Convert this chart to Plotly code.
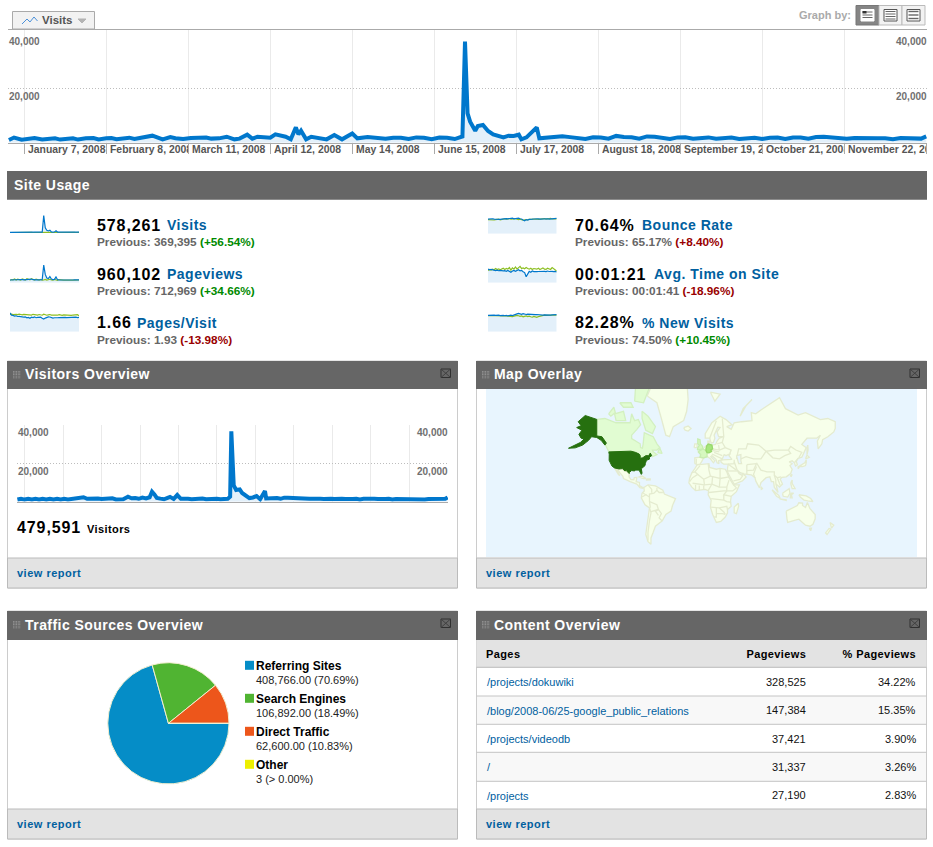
import json
import math
from datetime import datetime, timedelta
import plotly.graph_objects as go

W, H = 933, 847
BLUE = "#0077CC"
FILL = "#E3F0FA"
GREEN = "#8DBF22"
LINK = "#00609F"
FONT = "Liberation Sans"

# ---------- data ----------
tick_dates = ["2008-01-07", "2008-02-08", "2008-03-11", "2008-04-12", "2008-05-14", "2008-06-15",
              "2008-07-17", "2008-08-18", "2008-09-19", "2008-10-21", "2008-11-22", "2008-12-24"]
tick_labels = ["January 7, 2008", "February 8, 2008", "March 11, 2008", "April 12, 2008", "May 14, 2008",
               "June 15, 2008", "July 17, 2008", "August 18, 2008", "September 19, 2", "October 21, 2008",
               "November 22, 20"]

main_days = [0, 2, 5, 8, 10, 13, 16, 18, 20, 23, 25, 27, 30, 33, 35, 38, 40, 42, 45, 47, 49, 52, 54, 56, 60, 63, 65,
             68, 71, 74, 77, 79, 82, 85, 88, 90, 93, 95, 97, 102, 104, 108, 110, 112, 113, 114, 116, 118, 121, 124,
             127, 130, 134, 136, 140, 143, 147, 150, 153, 156, 159, 162, 165, 168, 171, 174, 176, 177, 178, 179,
             180, 181, 182, 183, 185, 187, 189, 193, 195, 197, 199, 200, 202, 204, 206, 207, 210, 213, 216, 219,
             222, 225, 228, 231, 234, 237, 240, 243, 246, 249, 252, 255, 258, 261, 264, 267, 270, 273, 276, 279,
             282, 285, 288, 291, 294, 297, 300, 303, 306, 309, 312, 315, 318, 321, 324, 327, 330, 333, 336, 339,
             342, 345, 348, 351, 354, 356, 358]
main_visits = [1000, 1900, 1100, 1550, 1700, 1150, 1600, 1650, 1150, 1650, 1650, 1150, 1650, 1700, 1200, 1650, 1700,
               1250, 1800, 1850, 1350, 1850, 1950, 2580, 1230, 2080, 1650, 1350, 1700, 1650, 1900, 1500, 1600, 2200,
               1230, 1500, 2950, 1480, 2200, 1850, 3070, 2200, 1230, 5640, 3070, 4420, 1230, 2200, 1600, 1230, 2800,
               1230, 3400, 1600, 2080, 1950, 1450, 1850, 1850, 1350, 1950, 1800, 1300, 1900, 1850, 1350, 2085, 2300,
               37200, 10800, 7730, 5890, 4420, 6130, 6500, 4300, 3070, 1960, 2580, 2450, 2940, 1230, 1960, 3800,
               5640, 1600, 1950, 2050, 2350, 2050, 1850, 1350, 2000, 1950, 1500, 2500, 2100, 2000, 1500, 2300, 2200,
               1700, 1350, 1950, 2000, 1500, 1900, 1950, 1450, 1850, 1900, 1400, 1800, 1850, 1400, 1850, 1900, 1350,
               1900, 1950, 1500, 2100, 2150, 1800, 1750, 1450, 1750, 1700, 1350, 1600, 1650, 1300, 1700, 1650, 1250,
               1500, 2300]

visitor_days = [0, 3, 6, 9, 12, 15, 18, 21, 24, 27, 30, 33, 36, 39, 42, 45, 48, 51, 55, 58, 61, 64, 67, 70, 73, 76,
                79, 82, 85, 88, 92, 95, 98, 101, 104, 107, 110, 112, 114, 116, 119, 122, 125, 127, 130, 133, 136, 139,
                142, 145, 148, 151, 154, 157, 160, 163, 166, 169, 172, 175, 176, 177, 178, 179, 180, 182, 185, 187,
                190, 193, 196, 199, 202, 204, 206, 207, 210, 213, 216, 219, 222, 225, 228, 231, 234, 237, 240, 243,
                246, 249, 252, 255, 258, 261, 264, 267, 270, 273, 276, 279, 282, 285, 288, 291, 294, 297, 300, 303,
                306, 309, 312, 315, 318, 321, 324, 327, 330, 333, 336, 339, 342, 345, 348, 351, 354, 356, 358]
visitor_counts = [1100, 1500, 1100, 1450, 1150, 1450, 1150, 1450, 1150, 1500, 1150, 1450, 1150, 1500, 1200, 1500,
                  1300, 1700, 2300, 1500, 1650, 1300, 1600, 1350, 1550, 1300, 1800, 1200, 1500, 1300, 2600, 1800,
                  1900, 1500, 2100, 1700, 2300, 5200, 3800, 2000, 1600, 1250, 2000, 2500, 1450, 3460, 1500, 1700,
                  1500, 1300, 1500, 1300, 1650, 1300, 1500, 1300, 1550, 1300, 1250, 1500, 2000, 2600, 36500, 14000,
                  8500, 6060, 6400, 4500, 2940, 1900, 2200, 2940, 1300, 3500, 5540, 1700, 1900, 2000, 1900, 1500,
                  2100, 2050, 1950, 1500, 1600, 1700, 1350, 1500, 1550, 1300, 1500, 1450, 1250, 1500, 1450, 1250,
                  1500, 1450, 1250, 1450, 1500, 1200, 1500, 1650, 1350, 1550, 1400, 1200, 1450, 1500, 1200, 1450,
                  1400, 1150, 1400, 1450, 1150, 1400, 1400, 1100, 1400, 1450, 1100, 1300, 1200, 1500, 2200]

visits_now = [1500, 1600, 1550, 1500, 1600, 1550, 1600, 1650, 1700, 1600, 2000, 1650, 1800, 1700, 2600, 1800, 3300,
              2100, 1700, 1600, 1500, 1700, 37500, 11000, 6000, 4500, 6200, 2500, 2000, 2200, 4800, 2000, 1900, 1800,
              1700, 1700, 1600, 1600, 1650, 1600, 1600, 1550, 1600, 1550, 1600, 1800]
visits_prev = [800, 900, 1200, 800, 900, 1300, 900, 1000, 1300, 800, 1100, 1400, 900, 1000, 1500, 1000, 1100, 1500,
               900, 1100, 1400, 900, 1000, 1400, 900, 1000, 1300, 900, 1000, 1300, 800, 1100, 900, 1200, 800, 900,
               1300, 800, 1000, 1300, 900, 1000, 1300, 800, 900, 1200]
pageviews_now = [2600, 2700, 2500, 2800, 2600, 2900, 2700, 3000, 3100, 2800, 3000, 2700, 3200, 2900, 3500, 2900, 3100,
                 2800, 2700, 2800, 2600, 3000, 17000, 8000, 4500, 4000, 6000, 3600, 3000, 3200, 5600, 2900, 2800, 2700,
                 2700, 2800, 2600, 2700, 2700, 2600, 2600, 2600, 2700, 2600, 2600, 2700]
pageviews_prev = [2300, 3000, 2700, 3500, 2500, 3400, 3000, 2600, 3700, 2900, 2500, 3800, 3100, 2700, 3900, 3300, 2500,
                  3400, 2900, 2500, 3100, 2400, 2600, 3200, 2500, 2900, 3300, 2700, 2400, 3100, 2600, 2300, 3000, 2700,
                  2200, 2500, 2400, 2600, 2500, 2400, 2600, 2500, 2400, 2600, 2500, 2600]
pagesvisit_now = [2.10, 1.85, 1.82, 1.75, 1.78, 1.70, 1.72, 1.68, 1.70, 1.62, 1.66, 1.55, 1.60, 1.50, 1.62, 1.58,
                  1.66, 1.56, 1.60, 1.64, 1.62, 1.50, 1.42, 1.52, 1.60, 1.66, 1.64, 1.58, 1.52, 1.56, 1.60, 1.56, 1.58,
                  1.60, 1.60, 1.58, 1.60, 1.58, 1.60, 1.56, 1.60, 1.58, 1.60, 1.62, 1.58, 1.60]
pagesvisit_prev = [1.92, 1.96, 1.90, 1.95, 1.93, 1.90, 1.96, 1.92, 1.88, 1.94, 1.92, 1.88, 1.92, 1.90, 1.86, 1.94,
                   1.90, 1.82, 1.86, 1.92, 1.88, 1.84, 1.96, 1.90, 1.84, 1.88, 1.92, 1.86, 1.84, 1.90, 1.88, 1.84, 1.90,
                   1.86, 1.82, 1.88, 1.86, 1.84, 1.88, 1.86, 1.82, 1.86, 1.88, 1.84, 1.90, 1.78]
bounce_now = [70, 71, 70, 72, 70, 69, 71, 70, 69, 70, 72, 74, 73, 72, 74, 73, 75, 72, 74, 73, 75, 72, 71, 66, 62, 68,
              66, 69, 68, 70, 71, 72, 71, 72, 70, 71, 72, 71, 71, 72, 70, 71, 72, 71, 73, 74]
bounce_prev = [68, 67, 69, 68, 66, 68, 69, 70, 67, 69, 71, 72, 70, 72, 73, 70, 72, 71, 73, 70, 68, 70, 67, 65, 67, 66,
               68, 69, 70, 68, 69, 70, 71, 69, 70, 71, 72, 73, 70, 71, 72, 74, 71, 73, 72, 71]
time_now = [86, 82, 84, 80, 79, 77, 80, 76, 78, 74, 75, 76, 72, 78, 70, 66, 74, 78, 72, 76, 82, 75, 78, 70, 64, 38, 60,
            72, 66, 74, 70, 72, 70, 71, 72, 73, 70, 72, 70, 74, 71, 73, 72, 70, 72, 68]
time_prev = [78, 84, 80, 86, 82, 90, 84, 88, 82, 86, 92, 84, 90, 86, 96, 80, 94, 86, 100, 86, 96, 104, 90, 94, 88, 96,
             90, 86, 92, 84, 90, 88, 86, 92, 84, 88, 94, 86, 84, 92, 88, 84, 96, 88, 80, 74]
newvisits_now = [79, 80, 79, 81, 80, 79, 81, 80, 78, 80, 79, 77, 79, 76, 78, 80, 78, 82, 84, 86, 88, 86, 84, 87, 85,
                 83, 85, 84, 82, 84, 83, 82, 83, 82, 80, 81, 80, 81, 80, 81, 81, 80, 81, 82, 81, 82]
newvisits_prev = [78, 77, 78, 76, 77, 78, 77, 76, 77, 75, 76, 77, 76, 75, 77, 75, 73, 75, 77, 79, 77, 74, 76, 72, 74,
                  76, 73, 75, 72, 70, 74, 72, 69, 73, 75, 77, 79, 80, 79, 80, 80, 79, 80, 80, 79, 80]

source_names = ["Referring Sites", "Search Engines", "Direct Traffic", "Other"]
source_values = [408766, 106892, 62600, 3]
source_labels = ["408,766.00 (70.69%)", "106,892.00 (18.49%)", "62,600.00 (10.83%)", "3 (> 0.00%)"]

page_paths = ["/projects/dokuwiki", "/blog/2008-06/25-google_public_relations", "/projects/videodb", "/", "/projects"]
page_views = ["328,525", "147,384", "37,421", "31,337", "27,190"]
page_shares = ["34.22%", "15.35%", "3.90%", "3.26%", "2.83%"]

# map outlines, (longitude, latitude)
alaska = [(-141, 69.6), (-148, 70.3), (-156.5, 71.3), (-166, 68.5), (-162, 66.5), (-168, 65.5), (-161, 64), (-165, 61.5),
          (-162, 59), (-158, 58.5), (-163, 56), (-179, 51.5), (-170, 51.8), (-160, 54), (-152, 57.5), (-148, 60), (-141, 59.5),
          (-135, 57.5), (-130, 54), (-128, 55.5), (-134, 60), (-141, 60.5)]
usa48 = [(-124.7, 48.4), (-95, 49), (-89, 48), (-84, 46.5), (-82.5, 45), (-82.5, 42.5), (-79, 43), (-76, 44), (-75, 45),
         (-71, 45), (-69, 47.3), (-67, 45), (-70, 43.5), (-70, 41.7), (-74, 40.5), (-75.5, 37.5), (-76, 35), (-81, 31.5),
         (-80, 26.5), (-81, 25), (-82.5, 28), (-84, 30), (-89, 30), (-90, 29), (-94, 29.5), (-97, 27.5), (-97.3, 26),
         (-99.5, 27.5), (-101.5, 29.7), (-103, 29), (-106.5, 31.7), (-111, 31.3), (-114.7, 32.5), (-117.2, 32.5),
         (-120.5, 34.5), (-122.5, 37.5), (-124.3, 40.5), (-124.2, 46)]
canada = [(-141, 69.6), (-130, 70), (-115, 68), (-108, 68), (-96, 68), (-94, 72), (-90, 69), (-85, 69.5), (-82, 67),
          (-87, 64.5), (-94, 61), (-94, 58.7), (-88, 56.5), (-82.5, 55), (-82, 52), (-79.5, 51.5), (-78.5, 55),
          (-77, 62.5), (-70, 61), (-65, 60), (-60, 55), (-56, 52), (-60, 50), (-66, 50), (-65, 48.5), (-60, 46), (-66, 44),
          (-67, 45), (-69, 47.3), (-71, 45), (-75, 45), (-76, 44), (-79, 43), (-82.5, 42.5), (-82.5, 45), (-84, 46.5),
          (-89, 48), (-95, 49), (-124.7, 48.4), (-130, 55), (-135, 58.5), (-141, 60)]
baffin = [(-80, 73), (-72, 71), (-62, 66), (-66, 62), (-75, 64), (-80, 70)]
victoria = [(-117, 72), (-105, 73), (-102, 69), (-115, 69)]
banks = [(-125, 72), (-118, 74.5), (-116, 72.5), (-122, 71)]
ellesmere = [(-90, 76.5), (-78, 76), (-68, 81), (-88, 82)]
devon = [(-110, 76), (-95, 76), (-92, 74.5), (-105, 74.5)]
newfoundland = [(-59, 47.7), (-53, 47), (-56, 51.5)]
greenland = [(-73, 78), (-60, 76), (-54, 70), (-51, 65), (-48, 61), (-43, 60), (-38, 66), (-24, 69), (-20, 73), (-18, 77),
             (-20, 82), (-60, 83)]
iceland = [(-24, 65.5), (-18, 66.3), (-14, 65), (-18, 63.5), (-22, 64)]
mexico = [(-117.2, 32.5), (-114.7, 32.5), (-111, 31.3), (-106.5, 31.7), (-103, 29), (-101.5, 29.7), (-99.5, 27.5),
          (-97.3, 26), (-97.5, 22), (-95, 18.7), (-91, 18.5), (-90.5, 21), (-87, 21.3), (-88, 16), (-83.5, 15), (-83.5, 11),
          (-80, 9), (-77.5, 8.5), (-79, 7.5), (-83, 8.3), (-87, 13), (-92, 14.5), (-96, 16), (-105, 20), (-106, 23),
          (-110, 27), (-113, 31), (-114.8, 31), (-112, 27), (-110, 23.5), (-112, 25), (-115, 29)]
cuba = [(-85, 22), (-80, 23), (-74.5, 20), (-78, 20)]
hispaniola = [(-74, 19.5), (-69, 19.5), (-69, 18.3), (-74, 18)]
south_america = [(-77.5, 8.5), (-72, 12), (-62, 10.5), (-52, 5), (-50, 0), (-44, -2.5), (-35, -6), (-39, -15), (-41, -22),
                 (-48, -26), (-53, -33.5), (-57, -36), (-62, -39), (-65, -45), (-68, -50), (-68, -55), (-72, -53),
                 (-75, -47), (-73, -37), (-70, -18), (-76, -14), (-81, -5), (-80, 1), (-77, 4)]
africa = [(-6, 35.8), (10, 37), (11, 33), (20, 31), (25, 32), (32, 31), (34, 28), (37, 21), (43, 12), (51, 12), (47, 3),
          (40, -3), (39, -10), (40, -16), (35, -20), (35, -24), (32, -29), (26, -34), (20, -35), (18, -32), (15, -26),
          (12, -17), (13, -8), (9, -1), (9.5, 4), (5, 6), (-4, 5), (-8, 4.5), (-13, 9), (-17, 14.5), (-16, 20), (-13, 27),
          (-9.5, 31)]
madagascar = [(49.5, -12), (50, -16), (47, -25), (44, -24), (44, -17)]
eurasia = [(-9, 37), (-9, 43), (-2, 43.5), (-1, 46), (-4.5, 48.5), (2, 51), (6, 53.5), (8.5, 54), (8.5, 57), (10.5, 57),
           (10, 54.5), (14, 54), (19, 54.5), (21, 57), (24, 59), (30, 60), (23, 60), (21, 63), (25, 65.5), (22, 65.7),
           (17, 61), (18, 59), (16, 56), (13, 55.5), (11, 59), (5, 59), (5, 62), (14, 68), (25, 71), (33, 69.5), (41, 67),
           (34, 66), (40, 64.5), (44, 68), (54, 68.5), (68, 69), (67, 72.5), (73, 72), (80, 73.5), (105, 77.5), (113, 74),
           (130, 71.5), (140, 72.5), (160, 69.5), (170, 70), (180, 68.5), (180, 65), (178, 63), (170, 60), (163, 58),
           (162, 55), (157, 51), (156, 57), (160, 61), (155, 59), (142, 59), (135, 54.5), (141, 52), (135, 43.5),
           (130, 42.5), (127.5, 39.5), (129, 36), (126.5, 34.5), (125, 38), (122, 40), (118, 39), (122, 37), (119, 35),
           (122, 31), (120, 26), (114, 22), (108, 21.5), (106, 19), (109, 13), (105, 9), (100, 13.5), (103, 2), (100, 6),
           (98, 9), (97, 16), (94, 16), (92, 22), (87, 21), (80, 15), (78, 8), (73, 17), (72, 21), (67, 24.5), (57, 25.5),
           (52, 27), (48, 30), (50.5, 26), (54, 24), (56, 26), (60, 22), (55, 17), (44, 12.7), (39, 21), (35, 28), (35, 32),
           (36, 36.5), (30, 36.5), (26.5, 38.5), (26, 40.5), (29, 41), (41, 41.5), (37, 45), (39, 47), (33, 45), (30.5, 46),
           (28, 42), (26, 40.7), (23, 40), (23.5, 37), (21, 38), (19.5, 41.5), (14, 45), (12.5, 44), (18, 40), (16, 38),
           (12, 42), (8, 44), (3, 43), (0, 39), (-2, 36.7), (-5.5, 36)]
caspian = [(47, 45), (53, 46), (53, 40), (54, 37), (50, 37), (49, 40)]
germany = [(6, 51), (7, 53.5), (9, 54.8), (14, 54), (15, 51), (12.5, 50), (13.5, 48.7), (10, 47.5), (7.5, 47.7), (6, 49.5)]
france = [(-4.5, 48.5), (2, 51), (6, 49.5), (7.5, 47.7), (7.5, 44), (3, 43), (-2, 43.5), (-1, 46)]
britain = [(-5.5, 50), (1.5, 51), (1.5, 53), (-1.5, 55), (-2, 58), (-5, 58.5), (-5, 55), (-3, 54), (-5, 52)]
ireland = [(-10, 52), (-6, 52), (-6, 55), (-9, 55)]
honshu = [(130, 31.5), (132, 34), (136, 34), (140, 35), (141, 38), (141, 41), (139, 38), (133, 35.5), (130, 33.5)]
hokkaido = [(140, 42), (145, 43.5), (142, 45.5)]
sakhalin = [(142, 46), (143.5, 50), (143, 54), (142, 52)]
taiwan = [(120.5, 22), (122, 25), (120, 24)]
philippines = [(120, 14), (122, 18), (122, 14), (126, 7), (122, 7)]
sumatra = [(95, 5.5), (104, -2), (106, -6), (101, -3)]
borneo = [(109, 1), (114, 4), (118, 7), (119, 1), (116, -4), (110, -3)]
java = [(105, -6.5), (114, -7.5), (114, -8.5), (106, -7.5)]
sulawesi = [(120, 1), (124, 1), (121, -1), (122, -5), (119.5, -5)]
new_guinea = [(131, -1), (141, -2.5), (147, -6), (150, -10), (143, -9), (138, -8), (133, -4)]
sri_lanka = [(80, 9.5), (82, 7), (80.5, 6)]
australia = [(114, -22), (122, -18), (129, -15), (131, -11.5), (136, -12), (136, -15), (140, -17.5), (142.5, -11),
             (146, -19), (153, -26), (153, -31), (150, -37), (146, -39), (140, -38), (135, -34.5), (131, -31.5),
             (124, -33), (116, -35), (115, -31)]
tasmania = [(145, -41), (148, -41), (147, -43.5)]
nz_north = [(173, -35), (178, -38), (175, -41), (174, -39)]
nz_south = [(172, -41), (174, -42), (169, -47), (167, -45.5)]
svalbard = [(12, 79), (25, 78.5), (18, 76.5)]
novaya = [(52, 71), (56, 74), (68, 77), (60, 75)]

borders = [
    [(-60, 8), (-60, 5), (-64, 1), (-70, 0), (-70, -10), (-60, -14), (-58, -20), (-54, -25), (-57, -30), (-53, -33.5)],
    [(-70, -18), (-68, -24), (-70, -33), (-72, -45), (-72, -52)], [(-70, -10), (-69, -17), (-70, -18)],
    [(-68, -22.5), (-58, -20)], [(-72, 12), (-67, 6), (-67, 1.5)], [(-78.5, 1), (-75, -1), (-80, -4)],
    [(-60, 5), (-57, 2), (-52, 2)], [(-75, -1), (-70, -4)], [(-58, -20), (-62, -22), (-58, -27)],
    [(-2, 35), (-9, 28), (-13, 27)], [(-9, 28), (-5, 25), (-12, 21), (-16, 16)], [(-5, 25), (3, 19), (12, 23), (10, 30), (9, 37)],
    [(12, 23), (25, 20), (25, 32)], [(25, 20), (37, 22)], [(25, 20), (24, 9), (34, 9), (36, 14), (37, 18)],
    [(3, 19), (4, 12), (14, 13), (15, 23)], [(-12, 14), (4, 12)], [(-8, 4.5), (-8, 12)], [(-3, 5), (-3, 11)], [(3, 6.5), (3, 11)],
    [(14, 13), (9, 4.5)], [(14, 13), (24, 9)], [(10, 2), (18, 3), (30, 4), (34, 4), (42, 4), (47, 8), (43, 12)],
    [(34, 9), (34, 4), (30, -1), (40, -3)], [(13, -6), (22, -7), (30, -8), (34, -10), (40, -11)], [(30, -1), (30, -8)],
    [(12, -17), (24, -18), (34, -16), (35, -20)], [(20, -18), (20, -29), (17, -29)], [(24, -18), (30, -23), (32, -26)],
    [(20, -25), (28, -25), (32, -26)], [(30, 60), (28, 56), (32, 52), (40, 50), (38, 47)], [(47, 42), (48, 46), (50, 51), (60, 51), (62, 55),
    (77, 54), (87, 49), (98, 50), (107, 50), (117, 50), (120, 53), (127, 50), (135, 48), (131, 43)],
    [(87, 49), (96, 43), (105, 42), (112, 45), (120, 47), (117, 50)], [(53, 42), (60, 44), (70, 42), (80, 42), (87, 49)],
    [(74, 38), (80, 30), (88, 28), (98, 28), (98, 24), (102, 21), (107, 22)], [(61, 36), (61, 25)], [(48, 30), (46, 35), (44, 39)],
    [(36, 36.5), (44, 37), (44, 41)], [(35, 29), (46, 29), (48, 29)], [(56, 24), (52, 19), (43, 17)],
    [(61, 36), (70, 37), (74, 37), (70, 30), (61, 29.5)], [(74, 34), (70, 25), (72, 21)], [(98, 24), (100, 18), (100, 13.5)],
    [(102, 21), (105, 15), (106, 11)], [(-2, 43.5), (3, 42.5)], [(-7, 37), (-7, 42)], [(14, 54), (15, 51), (24, 50), (23, 54)],
    [(12.5, 50), (24, 48.5)], [(17, 48), (28, 45)], [(14, 46.5), (22, 44), (28, 42)], [(24, 50), (32, 52)], [(28, 70), (30, 60)],
    [(20, 69), (12, 61), (11, 59)], [(36, 36.5), (47, 30)], [(28, 56), (21, 55)], [(125, 38), (130, 42.5)],
]
map_land = [mexico, cuba, hispaniola, south_america, africa, madagascar, eurasia, greenland, iceland, ireland, honshu,
            hokkaido, sakhalin, taiwan, philippines, sumatra, borneo, java, sulawesi, new_guinea, sri_lanka, australia,
            tasmania, nz_north, nz_south, svalbard, novaya]
map_canada = [canada, baffin, victoria, banks, ellesmere, devon, newfoundland]
map_usa = [alaska, usa48]

# ---------- helpers ----------
shapes, annotations, traces, SPACED = [], [], [], {}


def px(x):
    return x / W


def py(y):
    return 1 - y / H


def rect(x0, y0, x1, y1, fill="rgba(0,0,0,0)", line=None, lw=1, layer="below"):
    shapes.append(dict(type="rect", xref="paper", yref="paper", x0=px(x0), x1=px(x1), y0=py(y0), y1=py(y1),
                       fillcolor=fill, line=dict(color=line or fill, width=lw if line else 0), layer=layer))


def seg(x0, y0, x1, y1, color, lw=1, layer="below"):
    shapes.append(dict(type="line", xref="paper", yref="paper", x0=px(x0), x1=px(x1), y0=py(y0), y1=py(y1),
                       line=dict(color=color, width=lw), layer=layer))


def path(points, fill=None, color=None, lw=1):
    d = "M" + " L".join(f"{px(a):.5f},{py(b):.5f}" for a, b in points) + (" Z" if fill else "")
    shapes.append(dict(type="path", xref="paper", yref="paper", path=d, fillcolor=fill or "rgba(0,0,0,0)",
                       line=dict(color=color or fill, width=lw), layer="below"))


def text(x, y, s, size=11, color="#000", bold=False, anchor="left", spacing=0, width=None, family=FONT):
    a = dict(xref="paper", yref="paper", x=px(x), y=py(y), text=s, showarrow=False, xanchor=anchor, yanchor="middle",
             align=anchor, borderpad=0, borderwidth=0,
             font=dict(family=family, size=size, color=color, weight=700 if bold else 400))
    if width:
        a["width"] = width
    annotations.append(a)
    if spacing:
        SPACED[f"{s}|{size}px"] = spacing


def panel(x0, y0, x1, header_bottom, footer_top, bottom, title):
    rect(x0 + .5, y0, x1 - .5, bottom - .5, fill="#FFFFFF", line="#CCCCCC")
    rect(x0, y0, x1, header_bottom, fill="#666666")
    text(x0 + 18, (y0 + header_bottom) / 2 - 1, title, size=14, color="#FFFFFF", bold=True, spacing=.45)
    for i in range(5):
        for j in range(5):
            rect(x0 + 6 + i * 1.6, y0 + 10 + j * 1.6, x0 + 6.8 + i * 1.6, y0 + 10.8 + j * 1.6, fill="#ABABAB")
    bx0, by0 = x1 - 17, y0 + 8
    rect(bx0, by0, bx0 + 9.5, by0 + 8.5, line="#303030")
    seg(bx0, by0, bx0 + 9.5, by0 + 8.5, "#404040")
    seg(bx0, by0 + 8.5, bx0 + 9.5, by0, "#404040")
    rect(x0 + .5, footer_top, x1 - .5, bottom - .5, fill="#E3E3E3", line="#BBBBBB")
    text(x0 + 10, (footer_top + bottom) / 2, "view report", size=11, color=LINK, bold=True, spacing=.5)


DAY0 = datetime(2008, 1, 1)


def to_date(d):
    return (DAY0 + timedelta(days=d)).strftime("%Y-%m-%d %H:%M")


layout_axes = {}
DATE_RANGE = [to_date(-0.35), to_date(358.3)]


def time_chart(n, x0, x1, y_top, y_bot, ymax, days, vals, width, grid_vals, tick_vals):
    sx = "" if n == 1 else str(n)
    layout_axes["xaxis" + sx] = dict(domain=[px(x0), px(x1)], type="date", range=DATE_RANGE, anchor="y" + sx,
                                     tickmode="array", tickvals=tick_vals, showticklabels=False,
                                     showgrid=True, gridcolor="#EAEAEA", gridwidth=1, zeroline=False, showline=True,
                                     linecolor="#AAAAAA", linewidth=1, ticks="outside" if n == 1 else "",
                                     ticklen=10, tickcolor="#AAAAAA")
    layout_axes["yaxis" + sx] = dict(domain=[py(y_bot), py(y_top)], range=[0, ymax], anchor="x" + sx, tickmode="array",
                                     tickvals=grid_vals, showticklabels=False, showgrid=True, gridcolor="#BDBDBD",
                                     griddash="1px,2px", gridwidth=1, zeroline=False, showline=False)
    traces.append(go.Scatter(x=[to_date(d) for d in days], y=vals, mode="lines", xaxis="x" + sx, yaxis="y" + sx,
                             line=dict(color=BLUE, width=width), fill="tozeroy", fillcolor=FILL, hoverinfo="skip"))


def value_labels(sx, x_left, x_right, shift):
    for v, s in ((40000, "40,000"), (20000, "20,000")):
        for x, anchor in ((x_left, "left"), (x_right, "right")):
            annotations.append(dict(xref="paper", yref="y" + sx, x=px(x), y=v, yshift=-shift, text=s, showarrow=False,
                                    xanchor=anchor, yanchor="middle", align=anchor, borderpad=0, borderwidth=0,
                                    font=dict(family=FONT, size=10, color="#707070", weight=700)))


# ---------- top chart ----------
rect(12.5, 11.5, 94.5, 29, fill="#F2F2F2", line="#AAAAAA")
path([(22, 24), (27, 19), (30, 22), (34, 17), (37.5, 21)], color="#4A90D9", lw=1)
text(42, 20, "Visits", size=11.5, color="#555555", bold=True)
path([(78, 19), (86, 19), (82, 23)], fill="#B4B4B4")
text(851, 15.5, "Graph by:", size=11, color="#AAAAAA", bold=True, anchor="right")
rect(856, 5.5, 879, 25, fill="#858585", line="#777777")
rect(879, 5.5, 902, 25, fill="#F2F2F2", line="#BBBBBB")
rect(902, 5.5, 925, 25, fill="#F2F2F2", line="#BBBBBB")
for bx, rows, frame in ((861, (12, 15, 17.5), "#FFFFFF"), (884, (11.5, 14, 16.5, 19), "#FFFFFF"), (907, (11.5, 15, 18.5), "#FFFFFF")):
    rect(bx, 9.5, bx + 13, 21, fill=frame, line="#555555" if bx != 861 else "#FFFFFF")
    for r in rows:
        seg(bx + 1.5, r, bx + 11.5, r, "#666666", lw=1.4 if bx == 907 else 1)
rect(862.5, 11, 866.5, 13.5, fill="#333333")

seg(8, 29.5, 927, 29.5, "#AAAAAA")
time_chart(1, 8, 927, 29.5, 142.7, 41618, main_days, main_visits, 4, [20000], tick_dates)
value_labels("", 9, 927, 8)
for d, lab in zip(tick_dates, tick_labels):
    annotations.append(dict(xref="x", yref="paper", x=d, xshift=3.5, y=py(149.7), text=lab, showarrow=False,
                            xanchor="left", yanchor="middle", align="left", width=78, borderpad=0, borderwidth=0,
                            font=dict(family=FONT, size=10.4, color="#555555", weight=700)))

# ---------- site usage ----------
rect(7, 171, 927, 199.7, fill="#666666")
text(14, 185, "Site Usage", size=14, color="#FFFFFF", bold=True, spacing=.45)


def spark(n, x0, x1, y_top, y_bot, ymax, now, prev):
    sx = str(n)
    layout_axes["xaxis" + sx] = dict(domain=[px(x0), px(x1)], range=[0, len(now) - 1], visible=False, anchor="y" + sx)
    layout_axes["yaxis" + sx] = dict(domain=[py(y_bot), py(y_top)], range=[0, ymax], visible=False, anchor="x" + sx)
    xs = list(range(len(now)))
    traces.append(go.Scatter(x=xs, y=now, mode="none", xaxis="x" + sx, yaxis="y" + sx, fill="tozeroy", fillcolor=FILL,
                             hoverinfo="skip"))
    traces.append(go.Scatter(x=xs, y=prev, mode="lines", xaxis="x" + sx, yaxis="y" + sx,
                             line=dict(color=GREEN, width=1.2), hoverinfo="skip"))
    traces.append(go.Scatter(x=xs, y=now, mode="lines", xaxis="x" + sx, yaxis="y" + sx,
                             line=dict(color=BLUE, width=1.2), hoverinfo="skip"))


spark(3, 10, 79, 214.5, 233, 40000, visits_now, visits_prev)
spark(4, 10, 79, 264, 282.7, 18000, pageviews_now, pageviews_prev)
spark(5, 10, 79, 312, 331.7, 2.2, pagesvisit_now, pagesvisit_prev)
spark(6, 488, 556.7, 214, 233.7, 95, bounce_now, bounce_prev)
spark(7, 488, 556.7, 263, 282.7, 125, time_now, time_prev)
spark(8, 488, 556.7, 312, 331.7, 95, newvisits_now, newvisits_prev)

GOOD, BAD = "#008A00", "#990000"


def usage(x, y, value, label, label_x, prev, change, colour):
    text(x, y, value, size=16, color="#000000", bold=True, spacing=.9)
    text(label_x, y, label, size=14, color=LINK, bold=True, spacing=.5)
    text(x, y + 17, f"Previous: {prev} <span style='color:{colour}'>({change})</span>", size=11.8, color="#666666", bold=True)


usage(97, 225, "578,261", "Visits", 166.7, "369,395", "+56.54%", GOOD)
usage(97, 274, "960,102", "Pageviews", 167.3, "712,969", "+34.66%", GOOD)
usage(97, 322.7, "1.66", "Pages/Visit", 137.3, "1.93", "-13.98%", BAD)
usage(575, 225, "70.64%", "Bounce Rate", 642.3, "65.17%", "+8.40%", BAD)
usage(575, 274, "00:01:21", "Avg. Time on Site", 653.7, "00:01:41", "-18.96%", BAD)
usage(575, 322.7, "82.28%", "% New Visits", 641.7, "74.50%", "+10.45%", GOOD)

# ---------- panels ----------
panel(7, 361, 458, 389, 558, 588.5, "Visitors Overview")
panel(476, 361, 927, 389, 558, 588.5, "Map Overlay")
panel(7, 611, 458, 640, 809, 839.5, "Traffic Sources Overview")
panel(476, 611, 927, 640, 809, 839.5, "Content Overview")

time_chart(2, 17, 448, 424.5, 501.7, 40000, visitor_days, visitor_counts, 4, [20000, 40000], tick_dates[:11])
value_labels("2", 17.5, 447.5, 8)
text(17, 527, "479,591", size=16, color="#000000", bold=True, spacing=.9)
text(87, 529, "Visitors", size=11, color="#000000", bold=True, spacing=.4)

# ---------- map ----------
rect(486, 389, 917, 557, fill="#E8F5FE")


def merc(lat):
    return math.log(math.tan(math.radians(45 + lat / 2)))


LON0, LON_SCALE, EQ_Y, MERC_SCALE = 701.5, 0.743, 494.0, 43.5
layout_axes["xaxis9"] = dict(domain=[px(486), px(917)], range=[(486 - LON0) / LON_SCALE, (917 - LON0) / LON_SCALE],
                             visible=False, anchor="y9")
layout_axes["yaxis9"] = dict(domain=[py(557), py(389)], range=[(EQ_Y - 557) / MERC_SCALE, (EQ_Y - 389) / MERC_SCALE],
                             visible=False, anchor="x9")


def map_trace(polys, fill, line, closed=True, lw=1.3):
    xs, ys = [], []
    for poly in polys:
        pts = list(poly) + ([poly[0]] if closed else [])
        xs += [p[0] for p in pts] + [None]
        ys += [merc(p[1]) for p in pts] + [None]
    traces.append(go.Scatter(x=xs, y=ys, mode="lines", xaxis="x9", yaxis="y9", line=dict(color=line, width=lw),
                             fill="toself" if fill else "none", fillcolor=fill, hoverinfo="skip"))


LAND_EDGE = "#E4EBCF"
map_trace(map_land, "#F7FFEA", LAND_EDGE)
map_trace(borders, None, LAND_EDGE, closed=False)
map_trace([caspian], "#E8F5FE", LAND_EDGE)
map_trace(map_canada, "#E1FCD2", "#D3F0C0")
map_trace([france, britain], "#D6F8BF", "#C8EDB0")
map_trace([germany], "#A6E67C", "#97D86C")
map_trace(map_usa, "#26700F", "#26700F", lw=1)

# ---------- pie ----------
traces.append(go.Pie(values=source_values, labels=source_names, sort=False, direction="clockwise", rotation=90,
                     textinfo="none", hoverinfo="skip", showlegend=False,
                     marker=dict(colors=["#058DC7", "#50B432", "#ED561B", "#EDEF00"],
                                 line=dict(color="#F2EFD0", width=1)),
                     domain=dict(x=[px(107.8), px(229)], y=[py(784), py(662.7)])))
swatches = ["#058DC7", "#50B432", "#ED561B", "#EDEF00"]
for i, (name, lab, col) in enumerate(zip(source_names, source_labels, swatches)):
    y = 665.3 + i * 33
    rect(245, y - 4.5, 254, y + 4.5, fill=col)
    text(256.2, y + .7, name, size=12, color="#000000", bold=True)
    text(256.2, y + 14.2, lab, size=11, color="#222222")

# ---------- table ----------
rect(476.5, 640, 926.5, 667.3, fill="#E3E3E3")
seg(476.5, 667.3, 926.5, 667.3, "#BBBBBB")
text(485.5, 654, "Pages", size=11, color="#000000", bold=True, spacing=.4)
text(806, 654, "Pageviews", size=11, color="#000000", bold=True, anchor="right", spacing=.4)
text(916, 654, "% Pageviews", size=11, color="#000000", bold=True, anchor="right", spacing=.4)
row_lines = [667.3, 696, 724.3, 752.3, 781.3, 809]
row_text = [682.3, 711, 739, 767, 796]
for i, (p, v, s) in enumerate(zip(page_paths, page_views, page_shares)):
    if i % 2:
        rect(477, row_lines[i], 926, row_lines[i + 1], fill="#F8F8F8")
    if i:
        seg(476.5, row_lines[i], 926.5, row_lines[i], "#C4C4C4")
    text(487, row_text[i], p, size=11, color=LINK)
    text(806, row_text[i] - (1 if i in (1, 4) else 0), v, size=11, color="#111111", anchor="right")
    text(916, row_text[i] - (1 if i in (1, 4) else 0), s, size=11, color="#111111", anchor="right")

# ---------- figure ----------
fig = go.Figure(traces)
fig.update_layout(width=W, height=H, autosize=False, margin=dict(l=0, r=0, t=0, b=0), paper_bgcolor="#FFFFFF",
                  plot_bgcolor="rgba(0,0,0,0)", showlegend=False, shapes=shapes, annotations=annotations,
                  font=dict(family=FONT), **layout_axes)

post = """
document.body.style.margin='0';
document.body.style.overflow='hidden';
var spaced = %s;
document.querySelectorAll('.annotation-text').forEach(function(t){
  var v = spaced[t.textContent + '|' + t.style.fontSize];
  if (v) { t.style.letterSpacing = v + 'px'; }
});
""" % json.dumps(SPACED)
fig.write_html("out.html", post_script=post, config={"displayModeBar": False, "staticPlot": True})
